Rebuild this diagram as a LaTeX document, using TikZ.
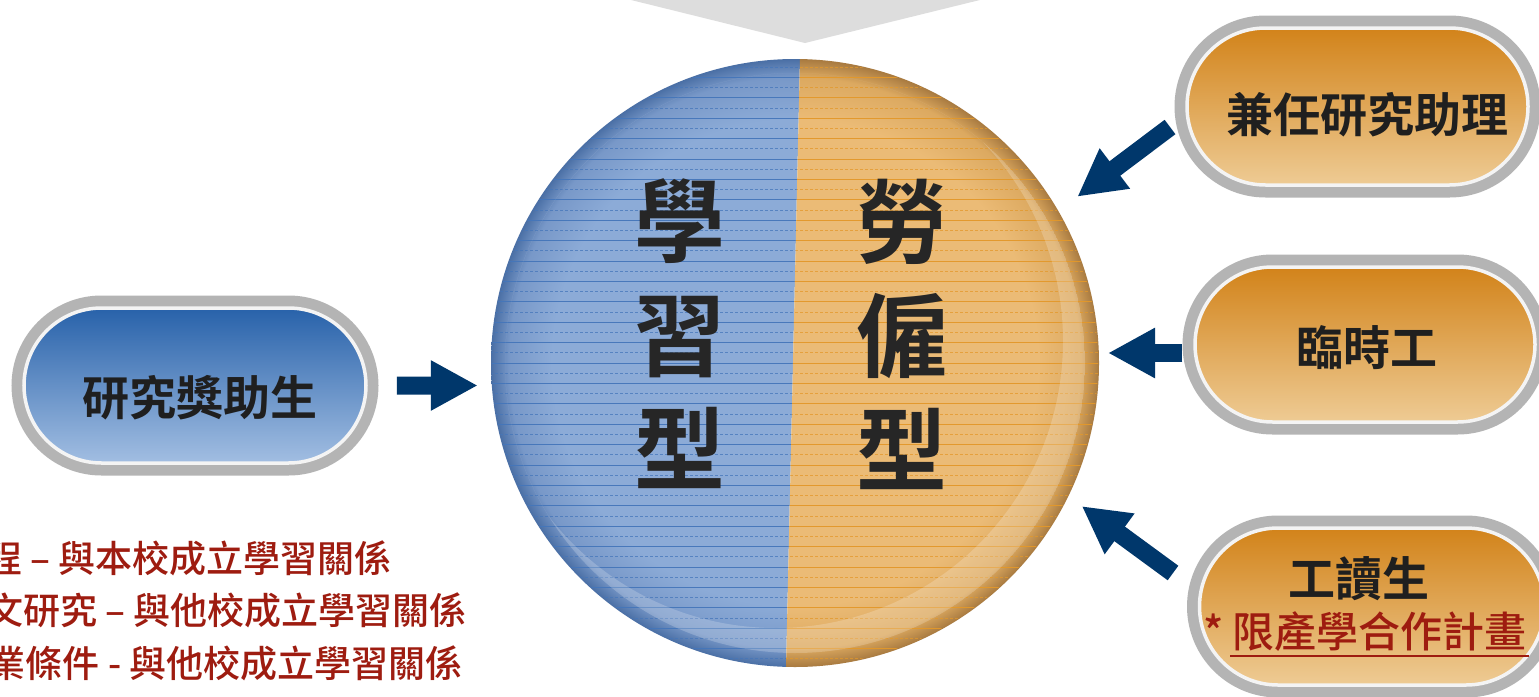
\documentclass[tikz,border=0pt]{standalone}
\usepackage{fontspec}
\setmainfont{Noto Sans CJK TC}[BoldFont={Noto Sans CJK TC Bold}]
\newfontfamily\cjkmed{Noto Sans CJK TC Medium}
\usetikzlibrary{shapes.misc,arrows.meta}
\definecolor{navy}{HTML}{00376B}
\definecolor{chev}{HTML}{DDDDDD}
\definecolor{pillgray}{HTML}{B4B4B4}
\definecolor{pillwhite}{HTML}{F4F4F4}
\definecolor{pbt}{HTML}{2862AA}
\definecolor{pbb}{HTML}{A2BEE2}
\definecolor{pot}{HTML}{D2831A}
\definecolor{pob}{HTML}{EECB94}
\definecolor{txt}{HTML}{1F1F1F}
\definecolor{ctext}{HTML}{262626}
\definecolor{dred}{HTML}{9E1C10}
\definecolor{cbl}{HTML}{8CABD7}
\definecolor{cbl2}{HTML}{7898C8}
\definecolor{cbl3}{HTML}{4A6FA5}
\definecolor{blline}{HTML}{4576BA}
\definecolor{cor}{HTML}{EBBB76}
\definecolor{cor2}{HTML}{DCA960}
\definecolor{cor3}{HTML}{A87A40}
\definecolor{orline}{HTML}{E3982A}
\pgfdeclareradialshading{bluesph}{\pgfpoint{0bp}{0bp}}{color(0bp)=(cbl); color(20bp)=(cbl); color(23.5bp)=(cbl2); color(25bp)=(cbl3); color(50bp)=(cbl3)}
\pgfdeclareradialshading{orsph}{\pgfpoint{0bp}{0bp}}{color(0bp)=(cor); color(20bp)=(cor); color(23.5bp)=(cor2); color(25bp)=(cor3); color(50bp)=(cor3)}
\tikzset{
  pillbase/.style={rounded rectangle, inner sep=0pt, draw=pillwhite, line width=3.5pt,
    preaction={draw=pillgray, line width=25pt}},
  bluepill/.style={pillbase, top color=pbt, bottom color=pbb},
  orangepill/.style={pillbase, top color=pot, bottom color=pob},
  pilltext/.style={font=\bfseries\fontsize{47}{50}\selectfont, text=txt, inner sep=0pt},
  redtext/.style={font=\cjkmed\fontsize{37}{40}\selectfont, text=dred, inner sep=0pt, anchor=east},
  bigtext/.style={font=\bfseries\fontsize{91}{114}\selectfont, text=ctext, align=center, inner sep=0pt},
  barrow/.style={draw=navy, line width=18pt, -{Triangle[length=47pt,width=47pt]}},
  blsolid/.style={draw=blline, line width=1pt, opacity=0.95},
  bldash/.style={draw=blline, line width=1pt, opacity=0.75, dash pattern=on 3pt off 2pt},
  orsolid/.style={draw=orline, line width=1pt, opacity=0.95},
  ordash/.style={draw=orline, line width=1pt, opacity=0.75, dash pattern=on 3pt off 2pt}
}
\begin{document}
\begin{tikzpicture}[x=1pt,y=-1pt]
\useasboundingbox (0,0) rectangle (1539,696);
\fill[white] (0,0) rectangle (1539,696);
\clip (0,0) rectangle (1539,696);

% top chevron
\fill[chev] (623,-2) -- (988,-2) -- (805,43) -- cycle;

% central circle
\node[circle, inner sep=0pt, minimum size=608pt] (circ) at (795,363) {};
\begin{scope}
  \clip (470,40) -- (800.4,40) -- (785.5,690) -- (470,690) -- cycle;
  \shade[shading=bluesph] (circ.center) circle (304pt);
  \clip (circ.center) circle (303pt);
  \foreach \i in {0,2,...,60} {\draw[blsolid] (480,{57+\i*10.2}) -- (810,{57+\i*10.2});}
  \foreach \i in {1,3,...,59} {\draw[bldash] (480,{57+\i*10.2}) -- (810,{57+\i*10.2});}
\end{scope}
\begin{scope}
  \clip (800.4,40) -- (1120,40) -- (1120,690) -- (785.5,690) -- cycle;
  \shade[shading=orsph] (circ.center) circle (304pt);
  \clip (circ.center) circle (303pt);
  \foreach \i in {0,2,...,60} {\draw[orsolid] (780,{57+\i*10.2}) -- (1110,{57+\i*10.2});}
  \foreach \i in {1,3,...,59} {\draw[ordash] (780,{57+\i*10.2}) -- (1110,{57+\i*10.2});}
\end{scope}
\begin{scope}
  \clip (circ.center) circle (290pt);
  \fill[white, opacity=0.2, even odd rule] (circ.center) circle (290pt) (776,341) circle (287pt);
\end{scope}

\node[bigtext] (learn) at (680,334) {學\\習\\型};
\node[bigtext] (labor) at (902,334) {勞\\僱\\型};

% pills
\node[bluepill, minimum width=342pt, minimum height=155pt] (p0) at (195,385.5) {};
\node[orangepill, minimum width=341pt, minimum height=157pt] (p1) at (1357.5,106.5) {};
\node[orangepill, minimum width=340pt, minimum height=155pt] (p2) at (1365,344.5) {};
\node[orangepill, minimum width=345pt, minimum height=157pt] (p3) at (1372,606.5) {};

\node[pilltext] (t0) at (200,398) {研究獎助生};
\node[pilltext] (t1) at (1367,115) {兼任研究助理};
\node[pilltext] (t2) at (1367,348) {臨時工};
\node[pilltext] (t3) at (1359,579) {工讀生};
\node[font=\cjkmed\fontsize{42}{45}\selectfont, text=dred, inner sep=0pt] (t3b) at (1365,632) {* 限產學合作計畫};
\draw[dred, line width=2.5pt] (1230,656) -- (1529,656);

% arrows
\coordinate (a1) at (1170,127);
\coordinate (b2) at (1108,353);
\coordinate (a3) at (1173,573);
\draw[barrow, shorten <=29pt, shorten >=13pt] (p0) -- (p0 -| circ.west);
\draw[barrow, shorten >=23.6pt] (a1) -- (circ.30);
\draw[barrow, shorten <=11pt] (p2.west |- b2) -- (b2);
\draw[barrow, shorten >=16.5pt] (a3) -- (circ.-26);

% left red notes
\node[redtext] (l1) at (392,558) {程 – 與本校成立學習關係};
\node[redtext] (l2) at (467,610) {文研究 – 與他校成立學習關係};
\node[redtext] (l3) at (463,663) {業條件 - 與他校成立學習關係};
\end{tikzpicture}
\end{document}
